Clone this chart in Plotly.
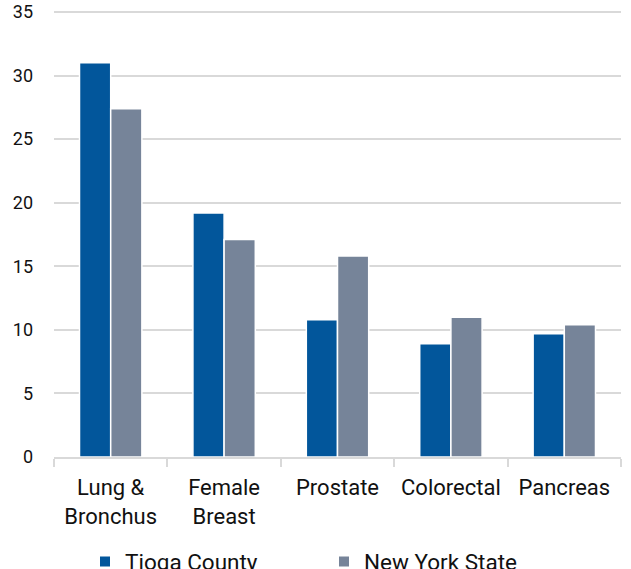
import plotly.graph_objects as go

categories = ["Lung &<br>Bronchus", "Female<br>Breast", "Prostate", "Colorectal", "Pancreas"]
tioga = [31.0, 19.2, 10.8, 8.9, 9.7]
nys = [27.4, 17.1, 15.8, 11.0, 10.4]
series_names = ["Tioga County", "New York State"]
y_ticks = [0, 5, 10, 15, 20, 25, 30, 35]

FONT = "Roboto"
fig = go.Figure()
fig.add_trace(go.Bar(x=categories, y=tioga, name=series_names[0],
                     marker=dict(color="#02569B", line=dict(color="white", width=1.5))))
fig.add_trace(go.Bar(x=categories, y=nys, name=series_names[1],
                     marker=dict(color="#768499", line=dict(color="white", width=1.5))))

fig.update_layout(
    width=631, height=569,
    margin=dict(l=54, r=10, t=11, b=112, autoexpand=False),
    plot_bgcolor="white", paper_bgcolor="white",
    barmode="group", bargap=0.45, bargroupgap=0.0,
    font=dict(family=FONT, size=22, color="#111111"),
    legend=dict(orientation="h", x=0.0547, xanchor="left", y=-0.235, yanchor="middle",
                font=dict(size=22.5), entrywidth=194, entrywidthmode="pixels",
                itemsizing="constant"),
    showlegend=True,
)
fig.update_xaxes(
    tickson="boundaries", ticks="outside", ticklen=8, tickcolor="#d9d9d9", tickwidth=1.5,
    showline=True, linecolor="#d9d9d9", linewidth=1.5, showgrid=False,
    tickfont=dict(size=22), ticklabelstandoff=10, automargin=False,
)
fig.update_yaxes(
    range=[0, 35.08], tickvals=y_ticks, showgrid=True, gridcolor="#d9d9d9", gridwidth=1.5,
    zeroline=False, showline=False, tickfont=dict(size=18), ticklabelstandoff=20,
    automargin=False, ticklabeloverflow="allow",
)
fig.write_html("out.html", config={"displayModeBar": False},
               post_script="document.body.style.margin='0';")
